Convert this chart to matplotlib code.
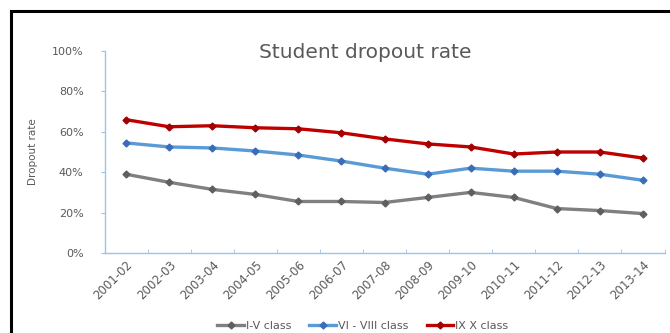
import matplotlib.pyplot as plt
from matplotlib.patches import Rectangle
from matplotlib.ticker import FuncFormatter

years = ["2001-02", "2002-03", "2003-04", "2004-05", "2005-06", "2006-07", "2007-08",
         "2008-09", "2009-10", "2010-11", "2011-12", "2012-13", "2013-14"]
class_1_5 = [39, 35, 31.5, 29, 25.5, 25.5, 25, 27.5, 30, 27.5, 22, 21, 19.5]
class_6_8 = [54.5, 52.5, 52, 50.5, 48.5, 45.5, 42, 39, 42, 40.5, 40.5, 39, 36]
class_9_10 = [66, 62.5, 63, 62, 61.5, 59.5, 56.5, 54, 52.5, 49, 50, 50, 47]
series_names = ["I-V class", "VI - VIII class", "IX X class"]

W, H = 670, 333
fig = plt.figure(figsize=(W / 100, H / 100), dpi=100)
fig.patch.set_facecolor("white")

# black frame around the chart (left and top visible)
fig.add_artist(Rectangle((11 / W, -0.05), 1.1, (H - 11) / H + 0.05, transform=fig.transFigure,
                         fill=False, edgecolor="black", linewidth=2.2))

ax = fig.add_axes([104.5 / W, 1 - 253 / H, 560 / W, 202 / H])
x = list(range(len(years)))
styles = [("#808080", "#5f5f5f"), ("#5b9bd5", "#3a6db8"), ("#c00000", "#a00000")]
for vals, name, (c, mc) in zip([class_1_5, class_6_8, class_9_10], series_names, styles):
    ax.plot(x, vals, color=c, linewidth=2.4, marker="D", markersize=3.5,
            markerfacecolor=mc, markeredgecolor=mc, label=name)

ax.set_xlim(-0.5, len(years) - 0.5)
ax.set_ylim(0, 100)
ax.set_yticks(range(0, 101, 20))
ax.yaxis.set_major_formatter(FuncFormatter(lambda v, p: f"{int(v)}%"))
ax.set_xticks(x)
ax.set_xticklabels(years, rotation=45, ha="right", rotation_mode="anchor")
ax.set_xticks([i - 0.5 for i in range(len(years) + 1)], minor=True)
ax.tick_params(axis="x", which="major", length=0, pad=4, labelsize=8.5, labelcolor="#595959")
ax.tick_params(axis="x", which="minor", length=3, direction="in", color="#9dc3e6")
ax.tick_params(axis="y", length=3, color="#9dc3e6", labelsize=8, labelcolor="#595959", pad=12)

for s in ["top", "right"]:
    ax.spines[s].set_visible(False)
for s in ["left", "bottom"]:
    ax.spines[s].set_color("#9dc3e6")
    ax.spines[s].set_linewidth(1.0)

ax.set_ylabel("Dropout rate", fontsize=7.5, color="#595959", labelpad=10)
fig.text(365 / W, 1 - 52 / H, "Student dropout rate", fontsize=14.5, color="#595959",
         ha="center", va="center")

ax.legend(loc="center", bbox_to_anchor=(363 / W, 1 - 326 / H), bbox_transform=fig.transFigure,
          ncol=3, frameon=False, fontsize=8, labelcolor="#595959", handlelength=2.4,
          columnspacing=1.6, handletextpad=0.2)

fig.savefig("out.png", dpi=100)
